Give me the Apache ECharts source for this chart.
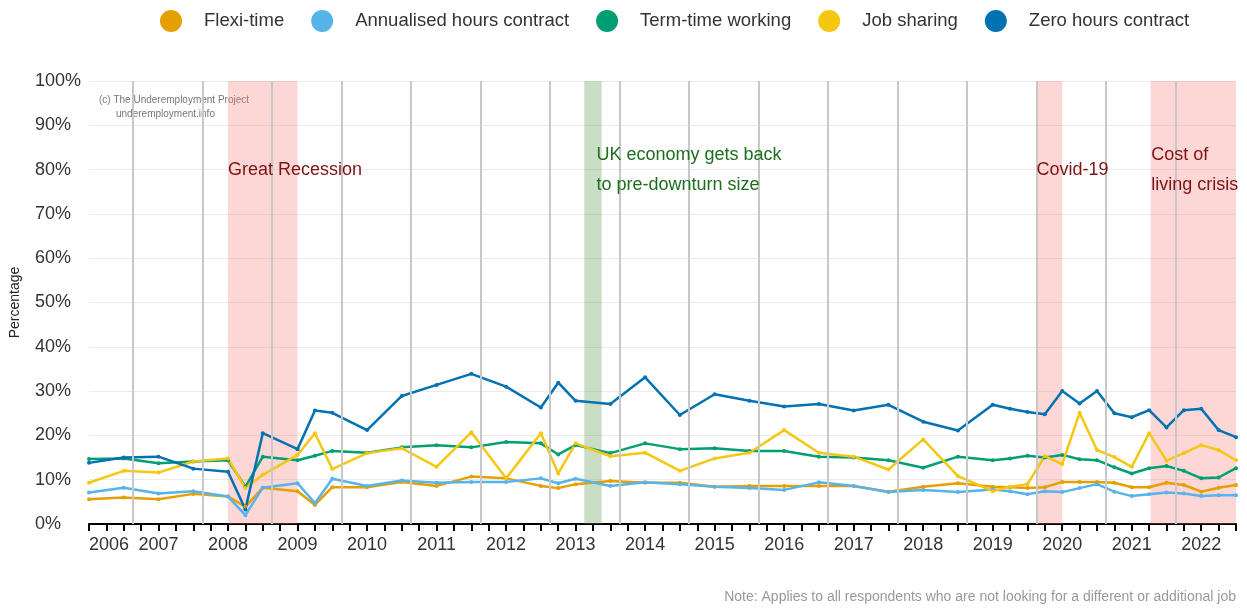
<!DOCTYPE html>
<html><head><meta charset="utf-8">
<script src="https://cdn.jsdelivr.net/npm/echarts@6/dist/echarts.min.js"></script>
<style>html,body{margin:0;padding:0;background:#fff}#c{width:1247px;height:608px}</style>
</head><body><div id="c"></div>
<script>
// Survey periods (decimal years)
const periods = [2006.0, 2006.5, 2007.0, 2007.5, 2008.0, 2008.25, 2008.5, 2009.0, 2009.25, 2009.5,
  2010.0, 2010.5, 2011.0, 2011.5, 2012.0, 2012.5, 2012.75, 2013.0, 2013.5, 2014.0,
  2014.5, 2015.0, 2015.5, 2016.0, 2016.5, 2017.0, 2017.5, 2018.0, 2018.5, 2019.0,
  2019.25, 2019.5, 2019.75, 2020.0, 2020.25, 2020.5, 2020.75, 2021.0, 2021.25, 2021.5,
  2021.75, 2022.0, 2022.25, 2022.5];

const flexiTime = [5.6, 6.0, 5.6, 6.8, 6.2, 3.9, 8.2, 7.4, 4.3, 8.3, 8.3, 9.5, 8.6, 10.7, 10.3, 8.6, 8.1, 9.0, 9.7, 9.3, 9.3, 8.4, 8.6, 8.6, 8.6, 8.6, 7.3, 8.4, 9.2, 8.4, 8.3, 8.1, 8.3, 9.5, 9.5, 9.5, 9.3, 8.3, 8.3, 9.3, 8.8, 7.3, 8.2, 8.8];
const annualisedHours = [7.1, 8.2, 6.9, 7.4, 6.2, 2.0, 8.2, 9.2, 4.7, 10.2, 8.6, 9.8, 9.3, 9.5, 9.5, 10.3, 9.2, 10.2, 8.6, 9.4, 9.0, 8.4, 8.1, 7.7, 9.4, 8.6, 7.2, 7.7, 7.2, 7.8, 7.4, 6.7, 7.4, 7.2, 8.1, 9.0, 7.3, 6.3, 6.7, 7.1, 6.9, 6.3, 6.5, 6.5];
const termTime = [14.7, 14.8, 13.7, 14.1, 14.4, 8.4, 15.2, 14.4, 15.4, 16.5, 16.1, 17.3, 17.8, 17.3, 18.5, 18.2, 15.7, 17.8, 16.0, 18.2, 16.9, 17.1, 16.5, 16.5, 15.2, 15.0, 14.4, 12.7, 15.2, 14.4, 14.8, 15.4, 15.0, 15.6, 14.6, 14.4, 12.8, 11.4, 12.6, 13.1, 12.0, 10.3, 10.5, 12.6];
const jobSharing = [9.3, 12.0, 11.6, 14.1, 14.8, 8.1, 11.1, 15.6, 20.5, 12.4, 16.0, 17.1, 12.9, 20.7, 10.3, 20.5, 11.4, 18.2, 15.3, 16.1, 12.0, 14.8, 16.1, 21.2, 16.1, 15.2, 12.3, 19.1, 10.8, 7.4, 8.4, 9.0, 15.3, 13.5, 25.1, 16.7, 15.1, 12.9, 20.5, 14.3, 16.0, 17.8, 16.7, 14.4];
const zeroHours = [13.8, 15.0, 15.2, 12.5, 11.8, 3.3, 20.5, 16.9, 25.6, 25.1, 21.2, 28.9, 31.4, 33.9, 31.0, 26.3, 31.9, 27.8, 27.1, 33.1, 24.6, 29.3, 27.8, 26.5, 27.1, 25.6, 26.9, 23.1, 21.1, 26.9, 26.0, 25.3, 24.8, 30.0, 27.2, 30.0, 25.0, 24.1, 25.7, 21.8, 25.7, 26.0, 21.2, 19.6];

const seriesNames = ['Flexi-time', 'Annualised hours contract', 'Term-time working', 'Job sharing', 'Zero hours contract'];
const seriesColors = ['#E69F00', '#56B4E9', '#009E73', '#F5C710', '#0072B2'];
const seriesValues = [flexiTime, annualisedHours, termTime, jobSharing, zeroHours];

// Guide lines (decimal years)
const guideLines = [2006.625, 2007.625, 2008.625, 2009.625, 2010.625, 2011.625, 2012.625, 2013.625, 2014.625, 2015.625, 2016.625, 2017.625, 2018.625, 2019.625, 2020.625, 2021.625];

// Event bands [start, end]
const recessionBands = [[2008.0, 2009.0], [2019.625, 2020.0], [2021.27, 2022.5]];
const recoveryBand = [2013.125, 2013.375];

// Annotations
const annotationTexts = ['Great Recession', 'UK economy gets back\nto pre-downturn size', 'Covid-19', 'Cost of\nliving crisis'];
const annotationX = [2008.0, 2013.3, 2019.63, 2021.28];
const annotationY = [80, 80, 80, 80];
const annotationColors = ['#7d1414', '#1d6e1d', '#7d1414', '#7d1414'];

const FONT = 'Liberation Sans, Arial, sans-serif';

const chart = echarts.init(document.getElementById('c'), null, {renderer: 'canvas'});

const lineSeries = seriesNames.map((name, i) => ({
  name, type: 'line',
  data: periods.map((p, j) => [p, seriesValues[i][j]]),
  color: seriesColors[i],
  lineStyle: {width: 2.5, color: seriesColors[i]},
  itemStyle: {color: seriesColors[i]},
  symbol: 'circle', symbolSize: 4, showSymbol: true,
  z: 3, silent: true, emphasis: {disabled: true}
}));

const option = {
  animation: false,
  textStyle: {fontFamily: FONT},
  grid: {left: 89, right: 11, top: 81, bottom: 84, containLabel: false},
  legend: {
    data: seriesNames, left: 155, top: 5, icon: 'circle',
    itemWidth: 22, itemHeight: 22, itemGap: 27,
    textStyle: {fontSize: 18.5, color: '#333', fontFamily: FONT, padding: [0, 0, 0, 17]},
    selectedMode: false
  },
  xAxis: {
    type: 'value', min: 2006, max: 2022.5, interval: 0.25,
    axisLine: {show: true, onZero: false, lineStyle: {color: '#000', width: 2}},
    axisTick: {show: true, length: 7, lineStyle: {color: '#000', width: 2}},
    axisLabel: {
      formatter: v => Number.isInteger(v) ? String(v) : '',
      fontSize: 18, color: '#333', margin: 12, alignMinLabel: 'left', fontFamily: FONT
    },
    splitLine: {show: false}
  },
  yAxis: {
    type: 'value', min: 0, max: 100, interval: 10,
    name: 'Percentage', nameLocation: 'middle', nameGap: 67,
    nameTextStyle: {fontSize: 14, color: '#222', fontFamily: FONT},
    axisLine: {show: false}, axisTick: {show: false},
    axisLabel: {formatter: '{value}%', fontSize: 18, color: '#333', align: 'left', margin: 54, fontFamily: FONT},
    splitLine: {lineStyle: {color: '#ebebeb', width: 1}}
  },
  graphic: [
    {type: 'text', left: 99, top: 95, style: {text: '(c) The Underemployment Project', fontSize: 10, fill: '#777', fontFamily: FONT}},
    {type: 'text', left: 116, top: 109, style: {text: 'underemployment.info', fontSize: 10, fill: '#777', fontFamily: FONT}},
    {type: 'text', right: 11, top: 590, style: {text: 'Note: Applies to all respondents who are not looking for a different or additional job', fontSize: 14, fill: '#999', fontFamily: FONT}}
  ],
  series: [
    {
      type: 'line', data: [], z: 1, silent: true,
      markLine: {
        silent: true, symbol: ['none', 'none'], animation: false,
        lineStyle: {color: '#c8c8c8', width: 2, type: 'solid'},
        label: {show: false},
        data: guideLines.map(x => ({xAxis: x}))
      }
    },
    ...lineSeries,
    {
      type: 'line', data: [], z: 10, silent: true,
      markArea: {
        silent: true, animation: false,
        data: [
          ...recessionBands.map(b => [{xAxis: b[0], itemStyle: {color: 'rgba(250,120,120,0.3)'}}, {xAxis: b[1]}]),
          [{xAxis: recoveryBand[0], itemStyle: {color: 'rgba(100,160,90,0.35)'}}, {xAxis: recoveryBand[1]}]
        ]
      }
    },
    {
      type: 'scatter', z: 11, silent: true, symbolSize: 0,
      data: annotationTexts.map((t, i) => ({
        value: [annotationX[i], annotationY[i]],
        label: {color: annotationColors[i], opacity: 1}
      })),
      label: {
        show: true, position: 'right', distance: 0,
        formatter: p => annotationTexts[p.dataIndex],
        fontSize: 18, lineHeight: 30, align: 'left', verticalAlign: 'middle', fontFamily: FONT
      }
    }
  ]
};
chart.setOption(option);
</script>
</body></html>
